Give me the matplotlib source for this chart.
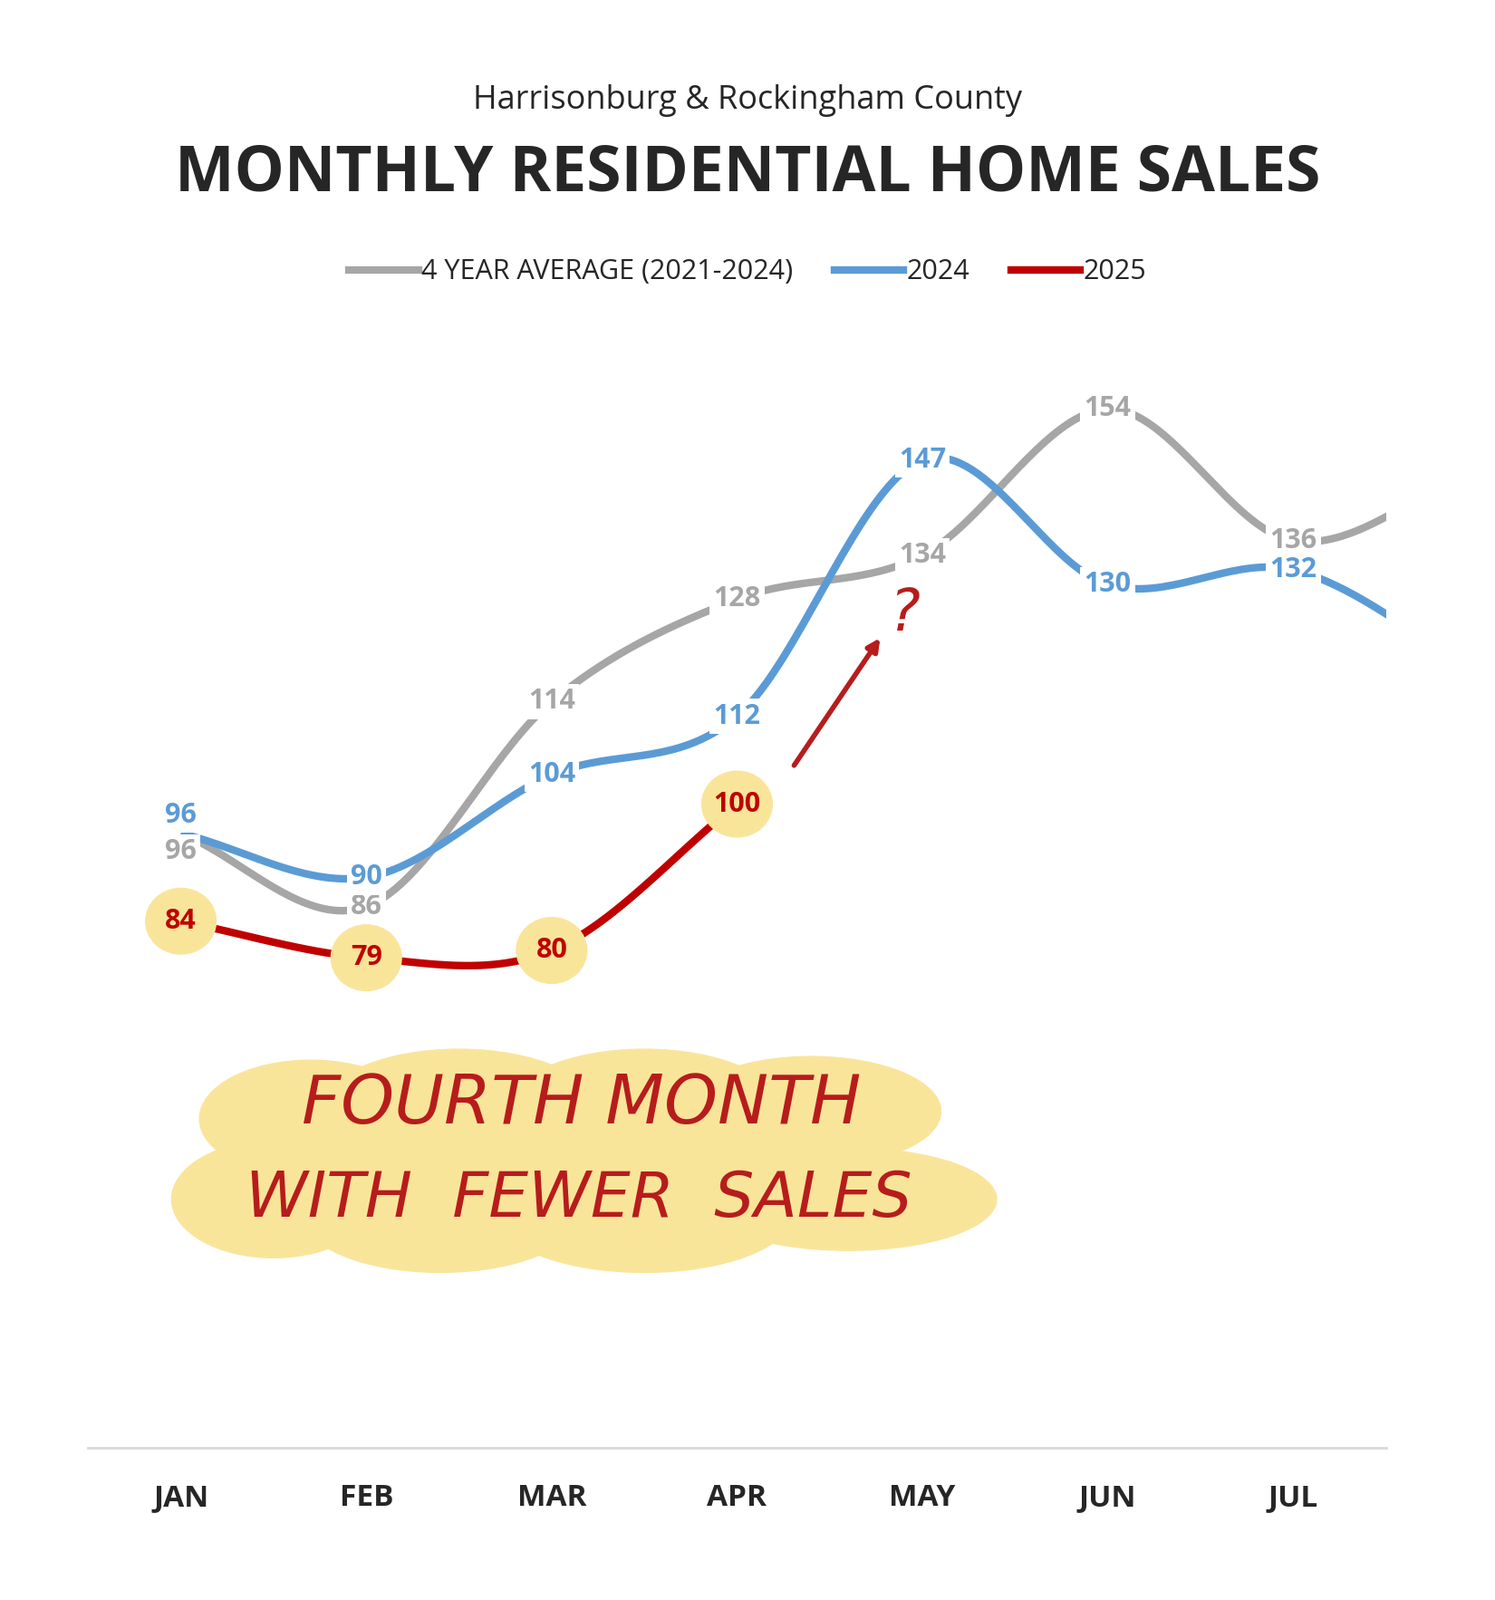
import matplotlib.pyplot as plt
import numpy as np
from matplotlib.patches import Ellipse
from matplotlib.lines import Line2D

months = ["JAN", "FEB", "MAR", "APR", "MAY", "JUN", "JUL"]
avg_4yr = [96, 86, 114, 128, 134, 154, 136, 146]
sales_2024 = [96, 90, 104, 112, 147, 130, 132, 118]
sales_2025 = [84, 79, 80, 100]

GRAY = "#a6a6a6"
BLUE = "#5b9bd5"
RED = "#c00000"
YELLOW = "#f9e59a"
FONT = "Open Sans"


def smooth(vals, n=40):
    # catmull-rom through the data points
    p = np.array(vals, dtype=float)
    p = np.concatenate([[2 * p[0] - p[1]], p, [2 * p[-1] - p[-2]]])
    xs, ys = [], []
    for i in range(1, len(p) - 2):
        t = np.linspace(0, 1, n)
        p0, p1, p2, p3 = p[i - 1], p[i], p[i + 1], p[i + 2]
        y = 0.5 * (2 * p1 + (-p0 + p2) * t + (2 * p0 - 5 * p1 + 4 * p2 - p3) * t ** 2
                   + (-p0 + 3 * p1 - 3 * p2 + p3) * t ** 3)
        xs.append(i - 1 + t)
        ys.append(y)
    return np.concatenate(xs), np.concatenate(ys)


fig = plt.figure(figsize=(16.5, 17.66), dpi=100)
ax = fig.add_axes([0.059, 0.095, 0.868, 0.75])
ax.set_xlim(-0.5, 6.5)
ax.set_ylim(12, 176)
for s in ["top", "left", "right"]:
    ax.spines[s].set_visible(False)
ax.spines["bottom"].set_color("#d9d9d9")
ax.spines["bottom"].set_linewidth(2)
ax.set_yticks([])
ax.set_xticks(range(len(months)))
ax.set_xticklabels(months, fontsize=24, fontweight="bold", color="#262626", family=FONT)
ax.tick_params(axis="x", length=0, pad=28)

for vals, col in [(avg_4yr, GRAY), (sales_2024, BLUE), (sales_2025, RED)]:
    x, y = smooth(vals)
    ax.plot(x, y, color=col, lw=6, solid_capstyle="butt")

# value labels
offsets = {(0, GRAY): -2.5, (0, BLUE): 2.5}
for vals, col in [(avg_4yr, GRAY), (sales_2024, BLUE)]:
    for i, v in enumerate(vals[:7]):
        dy = offsets.get((i, col), 0)
        ax.text(i, v + dy, str(v), ha="center", va="center", fontsize=22, fontweight="bold",
                color=col, family=FONT,
                bbox=dict(facecolor="white", edgecolor="none", pad=3))
for i, v in enumerate(sales_2025):
    ax.add_patch(Ellipse((i, v), 0.38, 9.0, color=YELLOW, zorder=3))
    ax.text(i, v, str(v), ha="center", va="center", fontsize=22, fontweight="bold",
            color=RED, family=FONT, zorder=4)

# arrow and question mark
ax.annotate("", xy=(3.78, 123), xytext=(3.3, 105),
            arrowprops=dict(arrowstyle="-|>,head_length=0.8,head_width=0.4", color="#b71c1c", lw=4))
ax.text(3.9, 126, "?", fontsize=46, color="#b71c1c", style="italic", ha="center", va="center")

# yellow callout blob
blob = [(0.7, 57, 1.2, 16), (1.5, 58, 1.5, 17), (2.5, 58, 1.5, 17), (3.4, 58, 1.4, 15),
        (0.5, 46, 1.1, 16), (1.4, 44, 1.5, 16), (2.5, 44, 1.6, 16), (3.6, 46, 1.6, 14),
        (2.0, 51, 3.0, 14)]
for cx, cy, w, h in blob:
    ax.add_patch(Ellipse((cx, cy), w, h, color=YELLOW, zorder=1))
ax.text(0.65, 59, "FOURTH MONTH", fontsize=54, color="#b71c1c", style="italic",
        va="center", ha="left", family="DejaVu Sans", zorder=2)
ax.text(0.35, 46, "WITH  FEWER  SALES", fontsize=50, color="#b71c1c", style="italic",
        va="center", ha="left", family="DejaVu Sans", zorder=2)

fig.text(0.5, 0.937, "Harrisonburg & Rockingham County", ha="center", va="center",
         fontsize=26, color="#262626", family=FONT)
fig.text(0.5, 0.891, "MONTHLY RESIDENTIAL HOME SALES", ha="center", va="center",
         fontsize=50, fontweight="bold", color="#262626", family=FONT)

handles = [Line2D([], [], color=GRAY, lw=6), Line2D([], [], color=BLUE, lw=6),
           Line2D([], [], color=RED, lw=6)]
fig.legend(handles, ["4 YEAR AVERAGE (2021-2024)", "2024", "2025"], loc="center",
           bbox_to_anchor=(0.5, 0.83), ncol=3, frameon=False,
           prop={"family": FONT, "size": 22},
           handlelength=2.5, handletextpad=0.1, columnspacing=1.5, labelcolor="#262626")

fig.savefig("out.png", dpi=100, facecolor="white")
